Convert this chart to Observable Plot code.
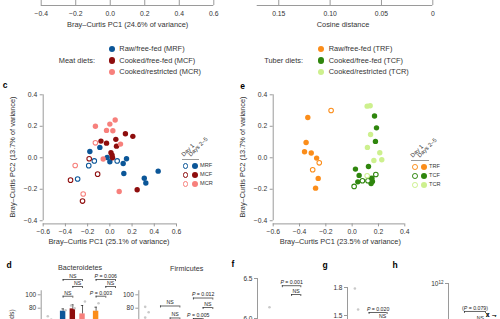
<!DOCTYPE html>
<html><head><meta charset="utf-8">
<script src="https://cdn.jsdelivr.net/npm/d3@7"></script>
<script src="https://cdn.jsdelivr.net/npm/@observablehq/plot@0.6"></script>
<style>
html,body{margin:0;padding:0;background:#fff;}
#root{position:relative;width:500px;height:319px;overflow:hidden;font-family:"Liberation Sans",Arial,sans-serif;color:#333;}
.t{position:absolute;white-space:nowrap;line-height:1;}
.sw{position:absolute;border-radius:50%;box-sizing:border-box;}
</style></head><body><div id="root"></div>
<script>
// ---------------- data ----------------
const meatGroups = ["MRF", "MCF", "MCR"];
const meatNames = ["Raw/free-fed (MRF)", "Cooked/free-fed (MCF)", "Cooked/restricted (MCR)"];
const meatColors = ["#0b5698", "#8e0d0d", "#f7807c"];
const tuberGroups = ["TRF", "TCF", "TCR"];
const tuberNames = ["Raw/free-fed (TRF)", "Cooked/free-fed (TCF)", "Cooked/restricted (TCR)"];
const tuberColors = ["#fb8d1a", "#2f860d", "#cdf08e"];

// panel c : [PC1, PC2]
const mrfDay1 = [[-0.29,-0.135],[-0.19,-0.05],[-0.14,-0.02],[0.066,-0.02]];
const mrfLater = [[-0.18,0.04],[-0.09,0.066],[-0.024,0.002],[0,-0.025],[0.12,-0.036],[0.15,-0.006],[0.126,-0.1],[0.31,-0.13],[0.324,-0.16],[0.435,-0.085]];
const mcfDay1 = [[-0.186,-0.006],[-0.11,-0.104],[-0.354,-0.142],[-0.246,-0.275]];
const mcfLater = [[-0.08,0.106],[-0.03,0.093],[0.054,0.117],[0.06,0.074],[0.14,0.153],[0.207,0.136],[0.01,0.032],[0.02,0.017],[0.024,0.0],[0.246,-0.203]];
const mcrDay1 = [[-0.13,0.095],[-0.312,-0.049],[-0.24,-0.23]];
const mcrLater = [[-0.13,0.2],[0,0.214],[0.048,0.24],[-0.03,0.174],[0.027,0.172],[0.096,0.087],[-0.06,-0.008],[0.084,-0.214]];
// panel e
const trfDay1 = [[-0.16,0.3],[-0.25,-0.032],[-0.3,-0.076]];
const trfLater = [[-0.337,0.256],[-0.35,0.097],[-0.362,0.038],[-0.311,0.03],[-0.27,-0.002],[-0.258,-0.131],[-0.278,-0.193]];
const tcfDay1 = [[0.015,-0.182],[0.078,-0.146],[0.12,-0.146],[0.18,-0.106]];
const tcfLater = [[0.17,0.265],[0.185,0.19],[0.177,0.104],[0.124,-0.055],[0.025,-0.072],[0.053,-0.112],[0.043,-0.153],[0.13,-0.13],[0.15,-0.13],[0.154,-0.15],[0.144,-0.163]];
const tcrDay1 = [[0.114,-0.114]];
const tcrLater = [[0.114,0.328],[0.137,0.33],[0.14,0.148],[0.116,0.066],[0.21,0.032],[0.225,-0.013],[0.165,-0.017]];

// ticks
const pc1TopTicks = [-0.4,-0.2,0,0.2,0.4,0.6];
const cosTicks = [0.15,0.10,0.05,0];
const cosTickLabels = ["0.15","0.10","0.05","0"];
const pc1TicksC = [-0.6,-0.4,-0.2,0,0.2,0.4,0.6];
const pc1TicksE = [-0.6,-0.4,-0.2,0,0.2,0.4];
const pc2Ticks = [-0.4,-0.2,0,0.2,0.4];

// panel d
const barGroups = ["Base","MRF","MCF","MCR","TRF","TCF","TCR"];
const barColors = ["#cccccc", ...meatColors, ...tuberColors];
const bactMean = [0, 75.5, 79, 71.5, 75.5, 46, 48];
const bactUpper = [0, 79, 85, 84, 81.5, 52, 54];
const bactDots = [[68,63],[77],[84,80],[90],[87.5],[],[]];
const bactBrackets = [
  {a:"MRF", b:"MCR", y:122.8, label:"NS"},
  {a:"MCF", b:"MCR", y:112.4, label:"NS"},
  {a:"MRF", b:"MCF", y:97.9, label:"NS"},
  {a:"TRF", b:"TCR", y:122.8, label:"P = 0.006"},
  {a:"TCF", b:"TCR", y:112.4, label:"NS"},
  {a:"TRF", b:"TCF", y:97.9, label:"P = 0.003"}
];
const firmMean = [0, 40, 42, 38, 30, 52, 50];
const firmUpper = [0, 45, 47, 44, 35, 57, 56];
const firmDots = [[82,74,66],[],[],[],[],[],[]];
const firmBrackets = [
  {a:"MRF", b:"MCR", y:83.3, label:"NS"},
  {a:"MCF", b:"MCR", y:65.4, label:"NS"},
  {a:"TRF", b:"TCR", y:95.2, label:"P = 0.012"},
  {a:"TCF", b:"TCR", y:81, label:"NS"},
  {a:"TRF", b:"TCF", y:64.6, label:"P = 0.005"}
];
const pctTicks = [60,80,100];
const pctTickLabels = ["60","80","100"];
// panels f, g, h
const smallGroups = ["Base","RF","CF","CR"];
const fDots = [[6.14],[],[],[]];
const fBrackets = [{a:"RF", b:"CR", y:6.41, label:"P = 0.001"},{a:"CF", b:"CR", y:6.3, label:"NS"}];
const fTicks = [6.0, 6.5];
const fTickLabels = ["6.0","6.5"];
const gDots = [[1.79,1.564],[],[],[]];
const gBrackets = [{a:"RF", b:"CR", y:1.532, label:"P = 0.020"},{a:"CF", b:"CR", y:1.455, label:"NS"}];
const gTicks = [1.5, 1.8];
const gTickLabels = ["1.5","1.8"];
const hDots = [[],[],[],[]];
const hBrackets = [{a:"RF", b:"CR", y:2.0e11, label:"(P = 0.079)"},{a:"CF", b:"CR", y:1.12e11, label:"NS"}];
const hTicks = [1e12];
const hTickLabels = ["10^12"];

// ---------------- helpers ----------------
const root = document.getElementById("root");
const FONT = '"Liberation Sans", Arial, sans-serif';
const AX = "#9a9a9a";
const TXT = "#333";
const SVGNS = "http://www.w3.org/2000/svg";
const style = {fontFamily: FONT, fontSize: "6.8px", color: TXT, background: "transparent", overflow: "visible"};

function place(svg, left, top) {
  svg.style.position = "absolute";
  svg.style.left = left + "px";
  svg.style.top = top + "px";
  svg.style.overflow = "visible";
  root.append(svg);
}
function txt(s, x, y, o = {}) {
  const el = document.createElement("div");
  el.className = "t";
  el.textContent = s;
  el.style.fontSize = (o.size || 7.4) + "px";
  el.style.fontWeight = o.weight || "normal";
  el.style.color = o.color || TXT;
  el.style.left = x + "px";
  el.style.top = y + "px";
  const a = o.anchor || "middle";
  if (o.diag) {
    el.style.transformOrigin = "left center";
    el.style.transform = `translate(0,-50%) rotate(${o.diag}deg)`;
  } else {
    const tx = a === "middle" ? "-50%" : a === "end" ? "-100%" : "0";
    el.style.transform = `translate(${tx},-50%)` + (o.rotate ? ` rotate(${o.rotate}deg)` : "");
  }
  root.append(el);
  return el;
}
function swatch(x, y, r, color, open) {
  const el = document.createElement("div");
  el.className = "sw";
  el.style.left = (x - r) + "px"; el.style.top = (y - r) + "px";
  el.style.width = 2 * r + "px"; el.style.height = 2 * r + "px";
  if (open) { el.style.border = "1.1px solid " + color; el.style.background = "#fff"; }
  else el.style.background = color;
  root.append(el);
}
function richText(svg) {
  svg.querySelectorAll("text").forEach(t => {
    if (t.children.length) return;
    const s = t.textContent || "";
    const m = s.match(/^(\(?)P( = .*)$/);
    if (m) {
      t.textContent = "";
      t.append(m[1]);
      const ts = document.createElementNS(SVGNS, "tspan");
      ts.setAttribute("font-style", "italic");
      ts.textContent = "P";
      t.append(ts);
      t.append(m[2]);
      return;
    }
    const e = s.match(/^(\d+)\^(\d+)$/);
    if (e) {
      t.textContent = "";
      t.append(e[1]);
      const ts = document.createElementNS(SVGNS, "tspan");
      ts.setAttribute("dy", "-0.45em");
      ts.setAttribute("font-size", "70%");
      ts.textContent = e[2];
      t.append(ts);
    }
  });
}
const toRows = (arr, g, day1) => arr.map(([x, y]) => ({x, y, g, day1}));

// ---------------- top axes ----------------
place(Plot.plot({
  width: 250, height: 31, marginLeft: 40.7, marginRight: 36.7, marginTop: 0, marginBottom: 26,
  x: {domain: [-0.4, 0.6]}, y: {domain: [0, 1], axis: null}, style,
  marks: [
    Plot.ruleY([0], {stroke: AX}),
    Plot.ruleX(pc1TopTicks, {y1: 0, y2: 1, stroke: AX}),
    Plot.axisX({ticks: pc1TopTicks, tickSize: 0, tickPadding: 6, label: null})
  ]
}), 0, 0);
place(Plot.plot({
  width: 250, height: 31, marginLeft: 6.7, marginRight: 67.7, marginTop: 0, marginBottom: 26,
  x: {domain: [0.171, 0]}, y: {domain: [0, 1], axis: null}, style,
  marks: [
    Plot.ruleY([0], {stroke: AX}),
    Plot.ruleX(cosTicks, {y1: 0, y2: 1, stroke: AX}),
    Plot.axisX({ticks: cosTicks, tickFormat: d => cosTickLabels[cosTicks.indexOf(d)], tickSize: 0, tickPadding: 6, label: null})
  ]
}), 250, 0);
txt("Bray–Curtis PC1 (24.6% of variance)", 127.7, 25);
txt("Cosine distance", 343, 24.5);

// top legends
const legRows = [49, 60.5, 72];
txt("Meat diets:", 95, 60.5, {anchor: "end"});
meatGroups.forEach((g, i) => { swatch(112.3, legRows[i], 3.2, meatColors[i]); txt(meatNames[i], 119.3, legRows[i], {anchor: "start"}); });
txt("Tuber diets:", 303, 60.5, {anchor: "end"});
tuberGroups.forEach((g, i) => { swatch(321.3, legRows[i], 3.2, tuberColors[i]); txt(tuberNames[i], 328.7, legRows[i], {anchor: "start"}); });

// ---------------- scatter panels ----------------
function scatter(rows, groups, colors, xDomain, xTicks, width, marginLeft) {
  const filled = rows.filter(d => !d.day1), open = rows.filter(d => d.day1);
  return Plot.plot({
    width, height: 164, marginLeft, marginRight: 4, marginTop: 14.3, marginBottom: 20.6,
    x: {domain: xDomain}, y: {domain: [-0.42, 0.4]},
    color: {domain: groups, range: colors}, style,
    marks: [
      Plot.ruleX([xDomain[0]], {y1: -0.4, y2: 0.4, stroke: AX}),
      Plot.ruleY([-0.42], {stroke: AX}),
      Plot.axisX({ticks: xTicks, tickSize: 3, tickPadding: 2, stroke: AX, label: null}),
      Plot.axisY({ticks: pc2Ticks, tickSize: 3, tickPadding: 3, stroke: AX, label: null}),
      Plot.dot(filled, {x: "x", y: "y", fill: "g", r: 2.7}),
      Plot.dot(open, {x: "x", y: "y", stroke: "g", fill: "white", r: 2.3, strokeWidth: 1.05})
    ]
  });
}
const cRows = [...toRows(mrfDay1,"MRF",true), ...toRows(mrfLater,"MRF",false), ...toRows(mcfDay1,"MCF",true), ...toRows(mcfLater,"MCF",false), ...toRows(mcrDay1,"MCR",true), ...toRows(mcrLater,"MCR",false)];
const eRows = [...toRows(trfDay1,"TRF",true), ...toRows(trfLater,"TRF",false), ...toRows(tcfDay1,"TCF",true), ...toRows(tcfLater,"TCF",false), ...toRows(tcrDay1,"TCR",true), ...toRows(tcrLater,"TCR",false)];
place(scatter(cRows, meatGroups, meatColors, [-0.6, 0.6], pc1TicksC, 180, 42.7), 0, 80);
place(scatter(eRows, tuberGroups, tuberColors, [-0.6, 0.4], pc1TicksE, 158.3, 22.7), 250, 80);

txt("c", 5, 85, {size: 8.5, weight: "bold", color: "#000"});
txt("e", 242.7, 86, {size: 8.5, weight: "bold", color: "#000"});
txt("Bray–Curtis PC2 (13.7% of variance)", 12.7, 157, {rotate: -90});
txt("Bray–Curtis PC2 (13.7% of variance)", 243.3, 157, {rotate: -90});
txt("Bray–Curtis PC1 (25.1% of variance)", 109, 242.3);
txt("Bray–Curtis PC1 (23.5% of variance)", 340.3, 242.3);

// inner legends
function innerLegend(groups, colors, xOpen, xFill, rows, lineX1, lineX2, lineY) {
  const ln = document.createElement("div");
  ln.style.cssText = `position:absolute;left:${lineX1}px;top:${lineY}px;width:${lineX2 - lineX1}px;height:0;border-top:0.8px solid ${AX};`;
  root.append(ln);
  txt("Day 1", xOpen - 2.5, lineY - 3, {size: 5.8, diag: -45, anchor: "start"});
  txt("Days 2–5", xFill - 5, lineY - 3, {size: 5.8, diag: -45, anchor: "start"});
  groups.forEach((g, i) => {
    swatch(xOpen, rows[i], 2.9, colors[i], true);
    swatch(xFill, rows[i], 3.0, colors[i], false);
    txt(g, xFill + 5, rows[i], {size: 5.6, anchor: "start"});
  });
}
innerLegend(meatGroups, meatColors, 185.6, 195, [166, 175, 184], 181.7, 199, 159.3);
innerLegend(tuberGroups, tuberColors, 414.7, 424, [167, 176, 185], 411, 428.5, 160);

// ---------------- bottom panels ----------------
const pos = i => i + (i >= 1 ? 0.4 : 0) + (i >= 4 ? 0.4 : 0);
function bottomPanel(cfg) {
  const P = Object.fromEntries(cfg.groups.map((g, i) => [g, pos(i)]));
  const bars = cfg.mean ? cfg.groups.map((g, i) => ({g, x: P[g], m: cfg.mean[i], u: cfg.upper[i]})).filter(d => d.m > 0) : [];
  const dots = cfg.groups.flatMap((g, i) => (cfg.dots[i] || []).map((v, j) => ({x: P[g] + (cfg.dots[i].length > 1 ? (j % 2 ? 0.18 : -0.18) : 0.25 * (i > 0)), v})));
  const down = cfg.down;
  const svg = Plot.plot({
    width: 500, height: 64, marginLeft: cfg.axisPx, marginRight: 500 - cfg.rightPx, marginTop: 0, marginBottom: 0,
    x: {domain: [cfg.axisVal, cfg.rightVal]},
    y: {type: cfg.yType || "linear", domain: cfg.yDomain, range: cfg.yRange},
    color: {domain: cfg.groups, range: cfg.colors}, style: {...style, fontSize: "6.5px"},
    marks: [
      Plot.ruleX([cfg.axisVal], {y1: cfg.axisTop, y2: cfg.axisBottom, stroke: AX}),
      Plot.axisY({ticks: cfg.ticks, tickFormat: d => cfg.tickLabels[cfg.ticks.indexOf(d)], tickSize: 3, tickPadding: 2, stroke: AX, label: null}),
      Plot.rect(bars, {x1: d => d.x - 0.28, x2: d => d.x + 0.28, y1: cfg.barBase, y2: "m", fill: "g"}),
      Plot.ruleX(bars, {x: "x", y1: "m", y2: "u", stroke: "#222", strokeWidth: 0.7}),
      Plot.ruleY(bars, {x1: d => d.x - 0.12, x2: d => d.x + 0.12, y: "u", stroke: "#222", strokeWidth: 0.7}),
      Plot.dot(dots, {x: "x", y: "v", r: 1.3, fill: "#c9c9c9"}),
      Plot.ruleY(cfg.brackets, {x1: d => P[d.a], x2: d => P[d.b], y: "y", stroke: "#222", strokeWidth: 0.7}),
      Plot.ruleX(cfg.brackets, {x: d => P[d.a], y1: "y", y2: d => down(d.y), stroke: "#222", strokeWidth: 0.7}),
      Plot.ruleX(cfg.brackets, {x: d => P[d.b], y1: "y", y2: d => down(d.y), stroke: "#222", strokeWidth: 0.7}),
      Plot.text(cfg.brackets, {x: d => (P[d.a] + P[d.b]) / 2, y: "y", text: "label", dy: -3.2, fontSize: 5.2, fill: "#222"})
    ]
  });
  richText(svg);
  place(svg, 0, 255);
}
bottomPanel({groups: barGroups, colors: barColors, mean: bactMean, upper: bactUpper, dots: bactDots, brackets: bactBrackets,
  axisPx: 40.7, rightPx: 115, axisVal: -0.86, rightVal: 6.8, yDomain: [60, 100], yRange: [66.1, 39.3],
  axisTop: 106, axisBottom: 0, barBase: 0, ticks: pctTicks, tickLabels: pctTickLabels, down: y => y - 3});
bottomPanel({groups: barGroups, colors: barColors, mean: firmMean, upper: firmUpper, dots: firmDots, brackets: firmBrackets,
  axisPx: 138.3, rightPx: 212.3, axisVal: -0.84, rightVal: 6.8, yDomain: [60, 100], yRange: [66.1, 39.3],
  axisTop: 106, axisBottom: 0, barBase: 0, ticks: pctTicks, tickLabels: pctTickLabels, down: y => y - 3});
bottomPanel({groups: smallGroups, colors: ["#ccc","#ccc","#ccc","#ccc"], dots: fDots, brackets: fBrackets,
  axisPx: 257, rightPx: 300.3, axisVal: -1.3, rightVal: 3.4, yDomain: [6.0, 6.5], yRange: [63, 23],
  axisTop: 6.5, axisBottom: 5.5, ticks: fTicks, tickLabels: fTickLabels, down: y => y - 0.025});
bottomPanel({groups: smallGroups, colors: ["#ccc","#ccc","#ccc","#ccc"], dots: gDots, brackets: gBrackets,
  axisPx: 347, rightPx: 386.6, axisVal: -1.0, rightVal: 3.4, yDomain: [1.5, 1.8], yRange: [60, 32],
  axisTop: 1.8, axisBottom: 1.2, ticks: gTicks, tickLabels: gTickLabels, down: y => y - 0.021});
bottomPanel({groups: smallGroups, colors: ["#ccc","#ccc","#ccc","#ccc"], dots: hDots, brackets: hBrackets, yType: "log",
  axisPx: 448, rightPx: 485, axisVal: -0.12, rightVal: 3.4, yDomain: [1e11, 1e12], yRange: [68, 28],
  axisTop: 1e12, axisBottom: 1e10, ticks: hTicks, tickLabels: hTickLabels, down: y => y / 1.122});

txt("d", 9, 265, {size: 8.5, weight: "bold", color: "#000"});
txt("f", 233, 264, {size: 8.5, weight: "bold", color: "#000"});
txt("g", 325, 265, {size: 8.5, weight: "bold", color: "#000"});
txt("h", 395, 265, {size: 8.5, weight: "bold", color: "#000"});
txt("Bacteroidetes", 80, 268, {size: 7.2});
txt("Firmicutes", 186.7, 268.5, {size: 7.2});
txt("Relative abundance (reads)", 12, 351, {size: 6.8, rotate: -90});
</script></body></html>
